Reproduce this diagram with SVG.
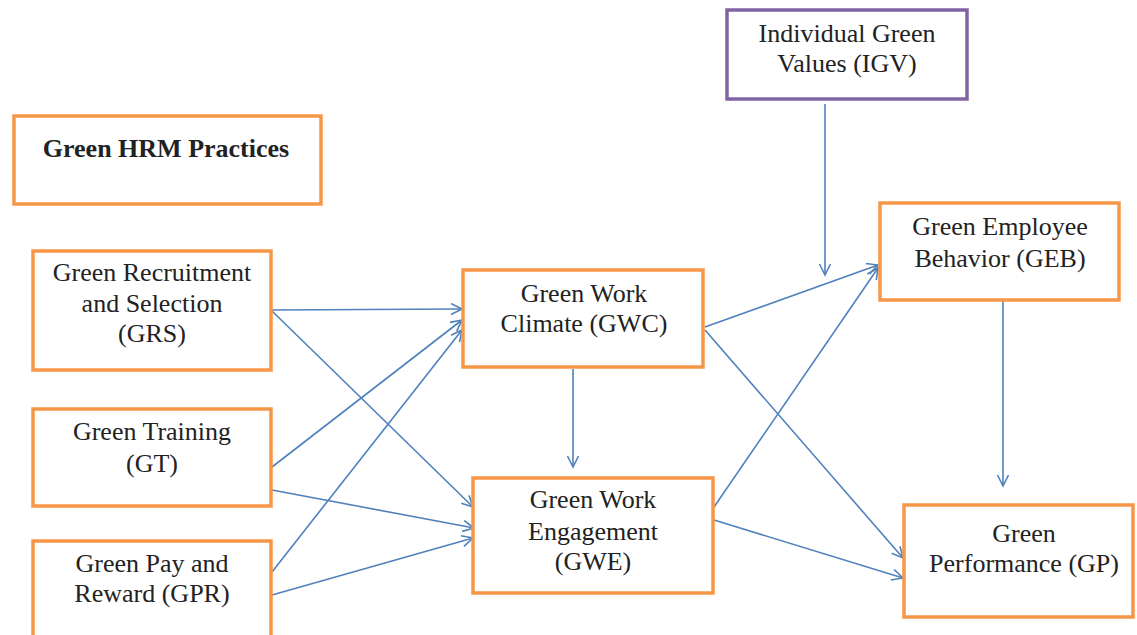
<svg xmlns="http://www.w3.org/2000/svg" width="1137" height="635" viewBox="0 0 1137 635">
<style>
.box{fill:#fff;stroke:#F79646;stroke-width:3.5}
.pbox{fill:#fff;stroke:#8064A2;stroke-width:3.5}
.t text{font-size:26px;fill:#222;text-anchor:middle}
.b{font-weight:bold}
.c line{stroke:#4F81BD;stroke-width:1.6;marker-end:url(#ah)}
</style>
<defs>
<marker id="ah" markerWidth="14" markerHeight="14" refX="12" refY="6" orient="auto" markerUnits="userSpaceOnUse">
<path d="M1,0.5 L12,6 L1,11.5" fill="none" stroke="#4F81BD" stroke-width="1.6"/>
</marker>
</defs>
<rect width="1137" height="635" fill="#fff"/>
<g class="c" id="connectors">
<line x1="272" y1="310" x2="462" y2="309"/>
<line x1="272" y1="311" x2="473" y2="507"/>
<line x1="272" y1="467" x2="462" y2="320"/>
<line x1="272" y1="490" x2="474" y2="528"/>
<line x1="272" y1="572" x2="462" y2="330"/>
<line x1="272" y1="595" x2="473" y2="538"/>
<line x1="573" y1="369" x2="573" y2="467"/>
<line x1="705" y1="327" x2="878" y2="265"/>
<line x1="705" y1="330" x2="903" y2="558"/>
<line x1="714" y1="507" x2="878" y2="268"/>
<line x1="714" y1="520" x2="903" y2="578"/>
<line x1="825" y1="104" x2="825" y2="275"/>
<line x1="1003" y1="301" x2="1003" y2="486"/>
</g>
<g class="t" font-family="'Liberation Serif', 'Times New Roman', 'DejaVu Serif', serif">
<g id="hrm"><rect class="box" x="14" y="116" width="307" height="88"/><text class="b" x="166" y="157">Green HRM Practices</text></g>
<g id="grs"><rect class="box" x="33" y="251" width="238" height="119"/><text x="152" y="281">Green Recruitment</text><text x="152" y="312">and Selection</text><text x="152" y="342">(GRS)</text></g>
<g id="gt"><rect class="box" x="33" y="409" width="238" height="97"/><text x="152" y="440">Green Training</text><text x="152" y="472">(GT)</text></g>
<g id="gpr"><rect class="box" x="33" y="541" width="238" height="110"/><text x="152" y="572">Green Pay and</text><text x="152" y="602">Reward (GPR)</text></g>
<g id="gwc"><rect class="box" x="463" y="270" width="240" height="97"/><text x="584" y="302">Green Work</text><text x="584" y="332">Climate (GWC)</text></g>
<g id="gwe"><rect class="box" x="473" y="478" width="240" height="115"/><text x="593" y="508">Green Work</text><text x="593" y="540">Engagement</text><text x="593" y="570">(GWE)</text></g>
<g id="igv"><rect class="pbox" x="727" y="10" width="240" height="89"/><text x="847" y="42">Individual Green</text><text x="847" y="72">Values (IGV)</text></g>
<g id="geb"><rect class="box" x="880" y="203" width="239" height="97"/><text x="1000" y="235">Green Employee</text><text x="1000" y="267">Behavior (GEB)</text></g>
<g id="gp"><rect class="box" x="904" y="505" width="229" height="112"/><text x="1024" y="542">Green</text><text x="1024" y="572">Performance (GP)</text></g>
</g>
</svg>
